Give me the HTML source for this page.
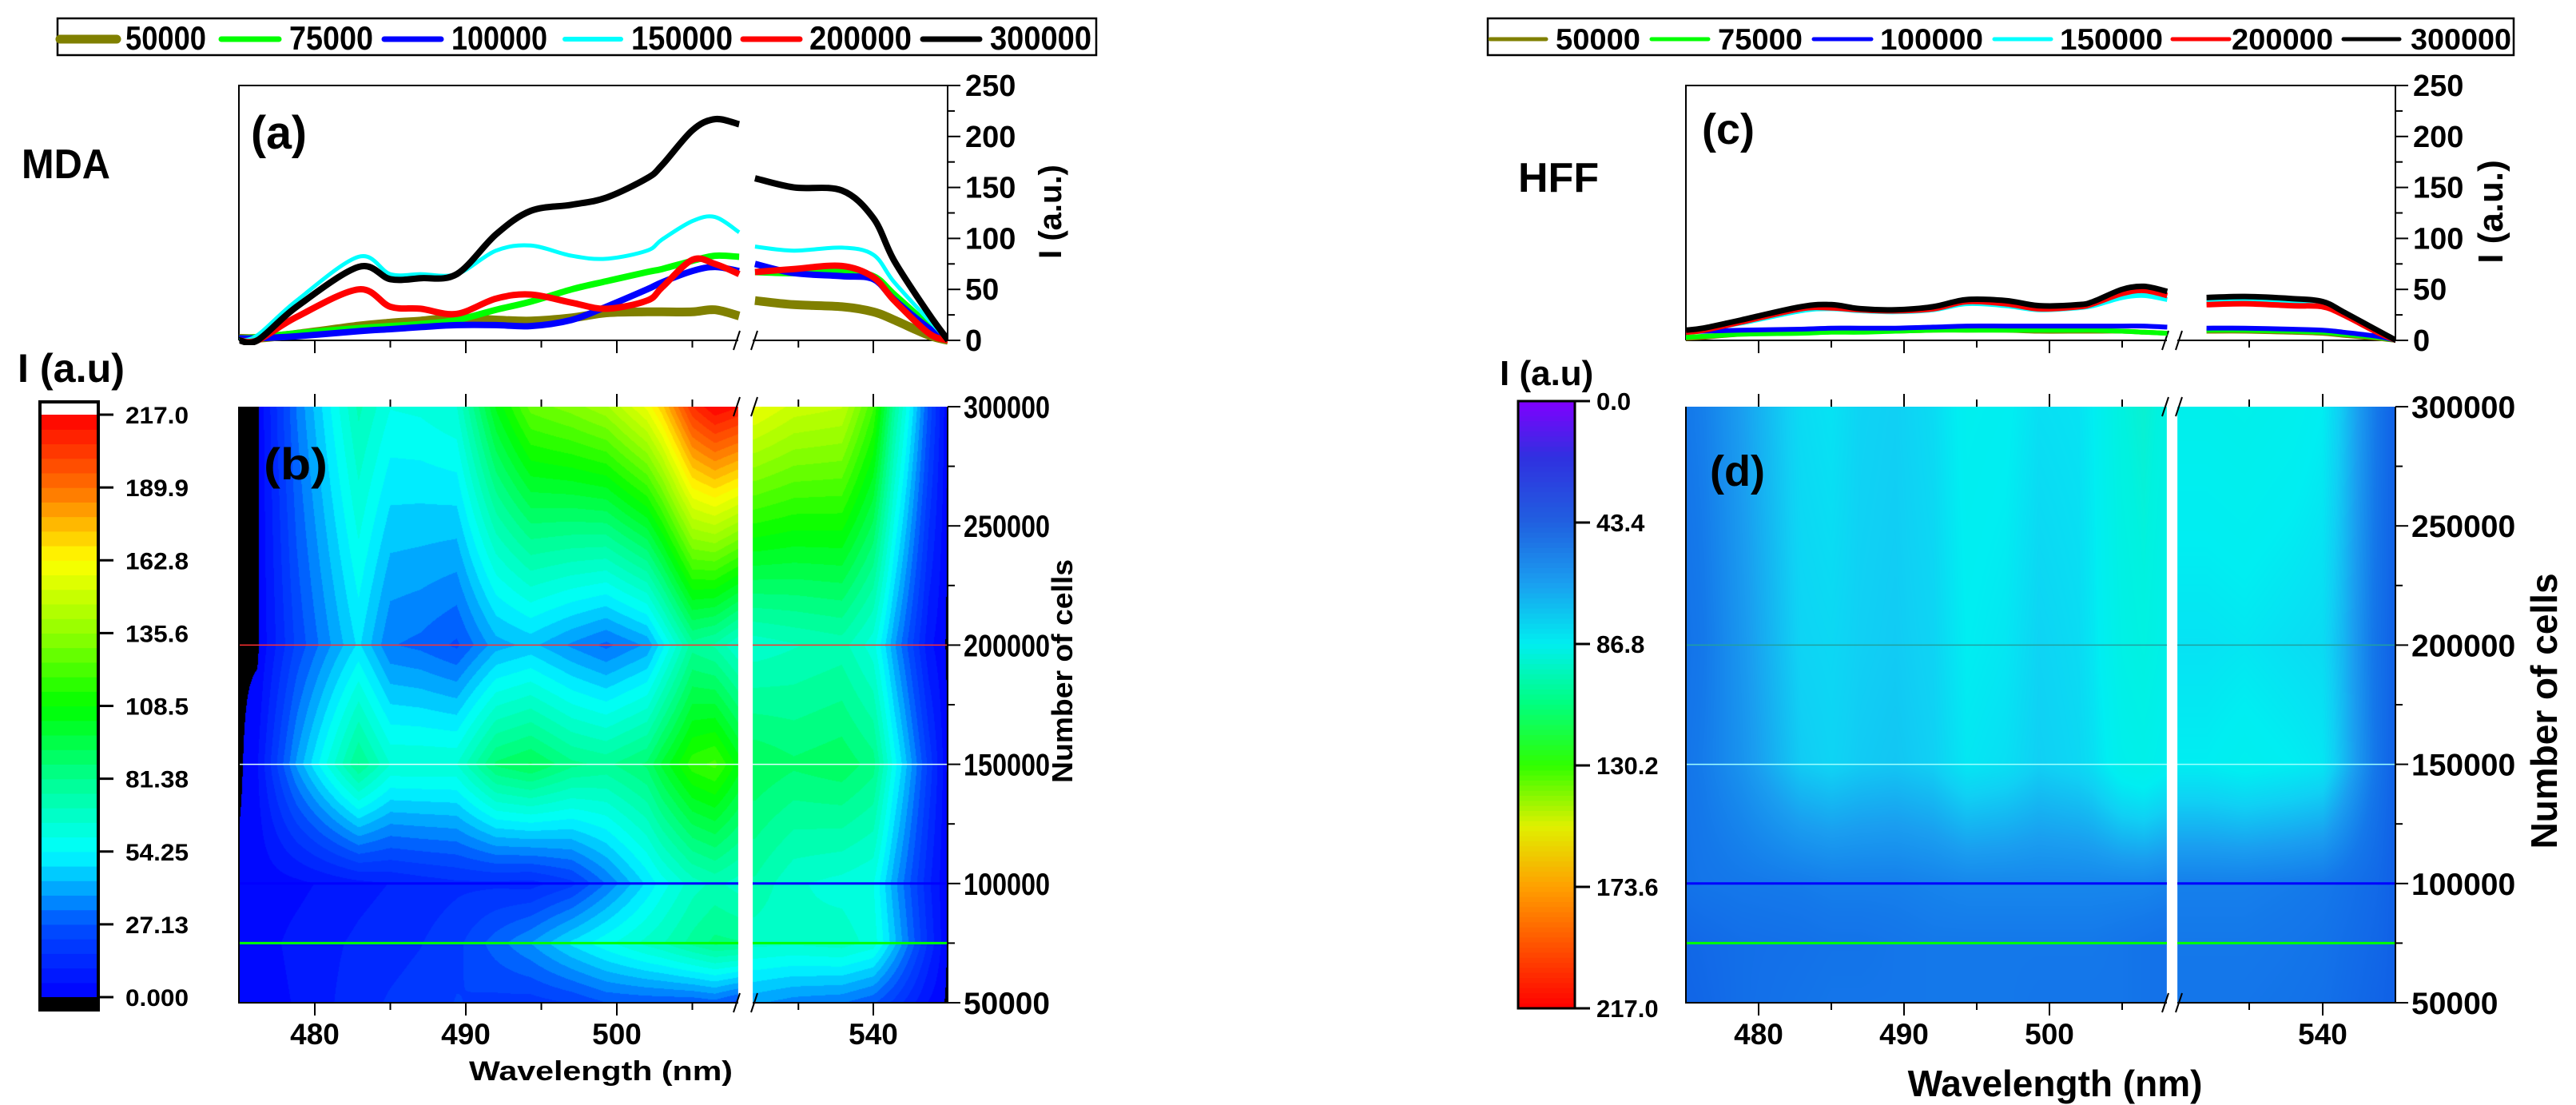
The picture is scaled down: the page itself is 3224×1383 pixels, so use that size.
<!DOCTYPE html>
<html><head><meta charset="utf-8">
<style>
html,body{margin:0;padding:0;background:#fff;}
#root{position:relative;width:3224px;height:1383px;overflow:hidden;background:#fff;font-family:"Liberation Sans",Arial,sans-serif;}
canvas{position:absolute;}
svg{position:absolute;left:0;top:0;}
svg text{font-family:"Liberation Sans",Arial,sans-serif;font-weight:bold;fill:#000;}
</style></head>
<body>
<div id="root">
<canvas id="hmL" width="887" height="747" style="left:299px;top:509px"></canvas>
<canvas id="hmR" width="889" height="747" style="left:2110px;top:509px"></canvas>
<svg id="svg" width="3224" height="1383">
  <text x="27" y="223" font-size="52" textLength="111" lengthAdjust="spacingAndGlyphs">MDA</text>
  <text x="1900" y="240" font-size="52">HFF</text>
  <text x="314" y="186" font-size="58" textLength="70" lengthAdjust="spacingAndGlyphs">(a)</text>
  <text x="2130" y="180" font-size="54">(c)</text>
  <text x="330" y="600" font-size="56" textLength="80" lengthAdjust="spacingAndGlyphs">(b)</text>
  <text x="2140" y="608" font-size="54">(d)</text>
  <text x="22" y="478" font-size="50" textLength="134" lengthAdjust="spacingAndGlyphs">I (a.u)</text>
  <text x="1877" y="482" font-size="44">I (a.u)</text>
  <text x="752" y="1352" font-size="34" text-anchor="middle" textLength="330" lengthAdjust="spacingAndGlyphs">Wavelength (nm)</text>
  <text x="2572" y="1372" font-size="46" text-anchor="middle">Wavelength (nm)</text>
  <text transform="translate(1328,265) rotate(-90)" font-size="40" text-anchor="middle">I (a.u.)</text>
  <text transform="translate(3132,265) rotate(-90)" font-size="44" text-anchor="middle">I (a.u.)</text>
  <text transform="translate(1342,840) rotate(-90)" font-size="36" text-anchor="middle" textLength="280" lengthAdjust="spacingAndGlyphs">Number of cells</text>
  <text transform="translate(3200,890) rotate(-90)" font-size="46" text-anchor="middle">Number of cells</text>
</svg>
</div>
<script>
// ---- data ----
const WL = [475,476.2,478.8,482.9,485,487,489.4,492,494.3,497,499.3,502,503,505,506.5,508.1, 532.1,534.7,537.9,540,541.4,543.7,545];
const CELLS = [50000,75000,100000,150000,200000,300000];
const SERIES_NAMES = ['50000','75000','100000','150000','200000','300000'];
// MDA spectra
const mda50k  = [2,2,6,14,17,19,22,20,19,22,27,28,28,28,30,24, 39,35,33,28,20,5,0];
const mda75k  = [2,3,7,12,14,16,20,30,38,50,58,67,70,78,83,82, 67,66,68,63,45,15,0];
const mda100k = [2,2,4,9,11,13,15,15,14,20,33,50,57,68,72,68, 75,66,63,60,40,12,0];
const mda150k = [0,5,39,82,65,65,65,88,93,83,80,88,99,117,121,106, 92,88,91,84,57,20,0];
const mda200k = [0,0,23,50,33,31,26,41,45,37,31,39,52,79,75,65, 67,70,73,62,39,7,0];
const mda300k = [0,0,33,72,60,61,65,104,127,133,140,159,172,206,217,212, 159,150,147,120,78,26,0];
// HFF spectra
const hff50k  = [2,3,6,8,9,9,9,10,10,10,9,9,9,9,8,7, 9,9,8,7,5,2,0];
const hff75k  = [3,4,6,7,8,8,9,10,10,10,10,10,10,9,8,7, 10,10,9,8,6,3,0];
const hff100k = [8,9,10,11,12,12,12,13,14,14,14,14,14,14,14,13, 12,12,11,10,8,4,0];
const hff150k = [9,11,17,29,31,29,28,30,36,34,30,32,34,42,44,40, 38,40,38,36,26,9,0];
const hff200k = [8,10,18,31,32,30,29,31,38,36,31,33,36,46,49,44, 35,36,34,33,25,8,0];
const hff300k = [10,12,20,33,35,31,30,33,40,39,34,35,38,50,53,48, 42,43,41,38,28,10,0];
// ticks
const I_TICKS = [0,50,100,150,200,250];
const CELL_TICKS = [50000,100000,150000,200000,250000,300000];
const WL_MAJOR = [480,490,500,540];
const WL_MINOR = [485,495,505,535];
const CB_L_TICKS = ['0.000','27.13','54.25','81.38','108.5','135.6','162.8','189.9','217.0'];
const CB_R_TICKS = ['0.0','43.4','86.8','130.2','173.6','217.0'];

const MDA = [mda50k,mda75k,mda100k,mda150k,mda200k,mda300k];
const HFF = [hff50k,hff75k,hff100k,hff150k,hff200k,hff300k];
const COLORS = ['#808000','#00ff00','#0000ff','#00ffff','#ff0000','#000000'];

const NS='http://www.w3.org/2000/svg';
const svg=document.getElementById('svg');
function mk(tag,attrs,parent){const e=document.createElementNS(NS,tag);for(const k in attrs)e.setAttribute(k,attrs[k]);(parent||svg).appendChild(e);return e;}

const panels=[
 {key:'mda',data:MDA,x0:299,x1:1186,gap0:924,gap1:942,a:[394,18.9],b:[1093,18.75],lw:[11,8,8,5,8,8],hm:'hmL',cellLen:108,
  legend:{x0:72,x1:1372,items:[[72,149,157,101],[274,352,362,105],[478,555,565,120],[704,780,790,127],[927,1004,1013,128],[1152,1229,1239,127]],fs:42,lh:[11,7,7,6,7,7]},
  cb:{x0:50,x1:123,y0:519,y1:1248},plotLines:['#ff3030','#e0ffff','#0000ff','#00ff00']},
 {key:'hff',data:HFF,x0:2110,x1:2998,gap0:2712,gap1:2725,a:[2201,18.2],b:[2907,18.4],lw:[6,6,6,6,7,7],hm:'hmR',cellLen:0,
  legend:{x0:1862,x1:3146,items:[[1862,1938,1947,106],[2064,2141,2150,106],[2267,2345,2353,129],[2493,2570,2578,129],[2716,2793,2793,127],[2930,3006,3017,126]],fs:37,lh:[5,5,5,5,5,5]},
  cb:{x0:1900,x1:1971,y0:502,y1:1262},plotLines:['#20a0a0','#a0ffff','#0000ff','#00ff00']}
];
const TOP_Y0=426, TOP_Y1=107, HM_Y0=509, HM_Y1=1255;
function yI(v){return TOP_Y0-(v/250)*(TOP_Y0-TOP_Y1);}
function yC(c){return HM_Y1-(c-50000)/250000*(HM_Y1-HM_Y0);}

function xOf(p,wl){return wl<520? p.a[0]+(wl-480)*p.a[1] : p.b[0]+(wl-540)*p.b[1];}
function wlOf(p,x){ if(x<p.gap0) return 480+(x-p.a[0])/p.a[1]; if(x>p.gap1) return 540+(x-p.b[0])/p.b[1]; return null;}
function valAt(ser,wl){
  const left=wl<520; let idx=[];
  for(let i=0;i<WL.length;i++) if((WL[i]<520)===left) idx.push(i);
  if(wl<=WL[idx[0]]) return ser[idx[0]];
  if(wl>=WL[idx[idx.length-1]]) return ser[idx[idx.length-1]];
  for(let k=0;k<idx.length-1;k++){const i=idx[k],j=idx[k+1];
    if(wl>=WL[i]&&wl<=WL[j]){const t=(wl-WL[i])/(WL[j]-WL[i]);return ser[i]+(ser[j]-ser[i])*t;}}
  return 0;
}
function gridVal(data,wl,c){
  let k=0; while(k<CELLS.length-2 && c>CELLS[k+1]) k++;
  const t=Math.max(0,Math.min(1,(c-CELLS[k])/(CELLS[k+1]-CELLS[k])));
  return valAt(data[k],wl)*(1-t)+valAt(data[k+1],wl)*t;
}
function hex(h){return [parseInt(h.substr(1,2),16),parseInt(h.substr(3,2),16),parseInt(h.substr(5,2),16)];}
function cmap(stops,v){
  if(v<=stops[0][0]) return hex(stops[0][1]);
  for(let i=0;i<stops.length-1;i++){if(v<=stops[i+1][0]){const t=(v-stops[i][0])/(stops[i+1][0]-stops[i][0]);const a=hex(stops[i][1]),b=hex(stops[i+1][1]);return [0,1,2].map(j=>Math.round(a[j]+(b[j]-a[j])*t));}}
  return hex(stops[stops.length-1][1]);
}
const CM_L=[[0,'#0000ff'],[27,'#0050ff'],[54.25,'#00ffff'],[81.4,'#00ff90'],[108.5,'#00ff00'],[135.6,'#90ff00'],[162.8,'#ffff00'],[189.9,'#ff7000'],[217,'#ff0000']];
const CM_R=[[0,'#1060e6'],[10,'#1478ea'],[20,'#1a9ef0'],[30,'#10d0f4'],[38,'#00eef2'],[50,'#00f2e0'],[60,'#20eeb0']];
const CB_R_STOPS=[[0,'#8000ff'],[20,'#3030e0'],[43.4,'#2060e0'],[65,'#1a9ef0'],[86.8,'#00eef0'],[108,'#00ff80'],[130.2,'#30ff00'],[152,'#e0f000'],[173.6,'#ffa000'],[217,'#ff0000']];

panels.forEach((p,pi)=>{
  const cv=document.getElementById(p.hm), ctx=cv.getContext('2d');
  const W=cv.width,H=cv.height, img=ctx.createImageData(W,H);
  for(let px=0;px<W;px++){
    const wl=wlOf(p,p.x0+px+0.5);
    for(let py=0;py<H;py++){
      const o=(py*W+px)*4; let col;
      if(wl===null) col=[255,255,255];
      else{
        const c=300000-(py+0.5)/(HM_Y1-HM_Y0)*250000;
        let v=gridVal(p.data,wl,c);
        if(pi===0){ if(v<1) col=[0,0,0]; else {v=Math.floor(v/5.425)*5.425+2.7; col=cmap(CM_L,v);} }
        else col=cmap(CM_R,v);
      }
      img.data[o]=col[0];img.data[o+1]=col[1];img.data[o+2]=col[2];img.data[o+3]=255;
    }
  }
  ctx.putImageData(img,0,0);
  [200000,150000,100000,75000].forEach((c,i)=>{
    const l=mk('line',{x1:p.x0,x2:p.x1,y1:yC(c),y2:yC(c),stroke:p.plotLines[i],'stroke-width':i>=2?3:1.5});
    
    
  });
  const gapR=mk('rect',{x:p.gap0,y:HM_Y0-2,width:p.gap1-p.gap0,height:HM_Y1-HM_Y0+4,fill:'#fff'});
  
  
  const fr=mk('path',{d:`M${p.x0} ${HM_Y0}V${HM_Y1}H${p.gap0}M${p.gap1} ${HM_Y1}H${p.x1}V${HM_Y0}`,fill:'none',stroke:'#000','stroke-width':2});
  
  
  CELL_TICKS.forEach(c=>{
    const t=mk('line',{x1:p.x1,x2:p.x1+16,y1:yC(c),y2:yC(c),stroke:'#000','stroke-width':2});
    
    
    const tm=mk('line',{x1:p.x1,x2:p.x1+9,y1:yC(c+25000),y2:yC(c+25000),stroke:'#000','stroke-width':2});
    if(c===300000) tm.setAttribute('visibility','hidden');
    
    
    const at={x:p.x1+20,y:yC(c)+14,'font-size':39};
    if(p.cellLen){at.textLength=p.cellLen;at.lengthAdjust='spacingAndGlyphs';}
    const tx=mk('text',at);
    tx.textContent=String(c);
    
    
  });
  WL_MAJOR.concat(WL_MINOR).forEach(w=>{
    const major=WL_MAJOR.includes(w), x=xOf(p,w), len=major?16:9;
    [[HM_Y1,HM_Y1+len],[HM_Y0,HM_Y0-len],[TOP_Y0,TOP_Y0+len]].forEach(([a,b])=>{
      const t=mk('line',{x1:x,x2:x,y1:a,y2:b,stroke:'#000','stroke-width':2});
      
      
    });
    if(major){
      const tx=mk('text',{x:x,y:1307,'font-size':37,'text-anchor':'middle'});
      tx.textContent=String(w);
      
      
    }
  });
  [HM_Y1,HM_Y0,TOP_Y0].forEach(y=>{
    const b=mk('path',{d:`M${p.gap0-6} ${y+12}L${p.gap0+2} ${y-12}M${p.gap1-2} ${y+12}L${p.gap1+6} ${y-12}`,stroke:'#000','stroke-width':2,fill:'none'});
    
    
  });
  const tf=mk('path',{d:`M${p.x0} ${TOP_Y0}V${TOP_Y1}H${p.x1}V${TOP_Y0}H${p.gap1}M${p.gap0} ${TOP_Y0}H${p.x0}`,fill:'none',stroke:'#000','stroke-width':2});
  
  
  I_TICKS.forEach(v=>{
    const t=mk('line',{x1:p.x1,x2:p.x1+16,y1:yI(v),y2:yI(v),stroke:'#000','stroke-width':2});
    
    
    if(v<250){const tm=mk('line',{x1:p.x1,x2:p.x1+9,y1:yI(v+25),y2:yI(v+25),stroke:'#000','stroke-width':2});
      
      }
    const tx=mk('text',{x:p.x1+22,y:yI(v)+13,'font-size':38});
    tx.textContent=String(v);
    
    
  });
  const clipId='clip'+pi;
  const cp=mk('clipPath',{id:clipId}); mk('rect',{x:p.x0,y:TOP_Y1,width:p.x1-p.x0,height:TOP_Y0-TOP_Y1+6},cp);
  p.data.forEach((ser,si)=>{
    let d='';
    [WL.filter(w=>w<520),WL.filter(w=>w>520)].forEach(seg=>{
      const pts=seg.map(w=>[xOf(p,w),yI(ser[WL.indexOf(w)])]);
      d+=`M${pts[0][0].toFixed(1)} ${pts[0][1].toFixed(1)}`;
      for(let i=0;i<pts.length-1;i++){
        const p0=pts[Math.max(0,i-1)],p1=pts[i],p2=pts[i+1],p3=pts[Math.min(pts.length-1,i+2)];
        const c1=[p1[0]+(p2[0]-p0[0])/6,p1[1]+(p2[1]-p0[1])/6],c2=[p2[0]-(p3[0]-p1[0])/6,p2[1]-(p3[1]-p1[1])/6];
        d+=`C${c1[0].toFixed(1)} ${c1[1].toFixed(1)} ${c2[0].toFixed(1)} ${c2[1].toFixed(1)} ${p2[0].toFixed(1)} ${p2[1].toFixed(1)}`;
      }
    });
    const ln=mk('path',{d:d,fill:'none',stroke:COLORS[si],'stroke-width':p.lw[si],'stroke-linejoin':'round','clip-path':`url(#${clipId})`});
    
    
  });
  const L=p.legend;
  const lb=mk('rect',{x:L.x0,y:23,width:L.x1-L.x0,height:46,fill:'#fff',stroke:'#000','stroke-width':2.5});
  
  
  L.items.forEach((it,si)=>{
    const ll=mk('line',{x1:it[0]+3,x2:it[1]-3,y1:49,y2:49,stroke:COLORS[si],'stroke-width':L.lh[si],'stroke-linecap':'round'});
    
    
    const lt=mk('text',{x:it[2],y:62,'font-size':L.fs,textLength:it[3],lengthAdjust:'spacingAndGlyphs'});
    lt.textContent=SERIES_NAMES[si];
    
    
  });
  const C=p.cb;
  if(pi===0){
    const n=40, hh=(C.y1-C.y0)/n;
    for(let i=0;i<n;i++){
      const v=(i+0.5)*217/n;
      const rgb=cmap(CM_L,v);
      const r=mk('rect',{x:C.x0,y:C.y1-(i+1)*hh,width:C.x1-C.x0,height:hh+0.6,fill:`rgb(${rgb})`});
      
      
    }
    const bk=mk('rect',{x:C.x0,y:C.y1,width:C.x1-C.x0,height:16,fill:'#000'});
    
    
    const fb=mk('rect',{x:C.x0,y:C.y0-16,width:C.x1-C.x0,height:C.y1-C.y0+32,fill:'none',stroke:'#000','stroke-width':4});
    
    
    CB_L_TICKS.forEach((lab,i)=>{
      const y=C.y1-i*(C.y1-C.y0)/(CB_L_TICKS.length-1);
      const t=mk('line',{x1:C.x1,x2:C.x1+19,y1:y,y2:y,stroke:'#000','stroke-width':3});
      
      
      const tx=mk('text',{x:C.x1+34,y:y+11,'font-size':30,textLength:79,lengthAdjust:'spacingAndGlyphs'});
      tx.textContent=lab;
      
      
    });
  } else {
    const n=120, hh=(C.y1-C.y0)/n;
    for(let i=0;i<n;i++){
      const v=(i+0.5)*217/n;
      const rgb=cmap(CB_R_STOPS,v);
      const r=mk('rect',{x:C.x0,y:C.y0+i*hh,width:C.x1-C.x0,height:hh+0.6,fill:`rgb(${rgb})`});
      
      
    }
    const fb=mk('rect',{x:C.x0,y:C.y0,width:C.x1-C.x0,height:C.y1-C.y0,fill:'none',stroke:'#000','stroke-width':3});
    
    
    CB_R_TICKS.forEach((lab,i)=>{
      const y=C.y0+i*(C.y1-C.y0)/(CB_R_TICKS.length-1);
      const t=mk('line',{x1:C.x1,x2:C.x1+19,y1:y,y2:y,stroke:'#000','stroke-width':3});
      
      
      const tx=mk('text',{x:C.x1+27,y:y+11,'font-size':31});
      tx.textContent=lab;
      
      
    });
  }
});
</script>
</body></html>
